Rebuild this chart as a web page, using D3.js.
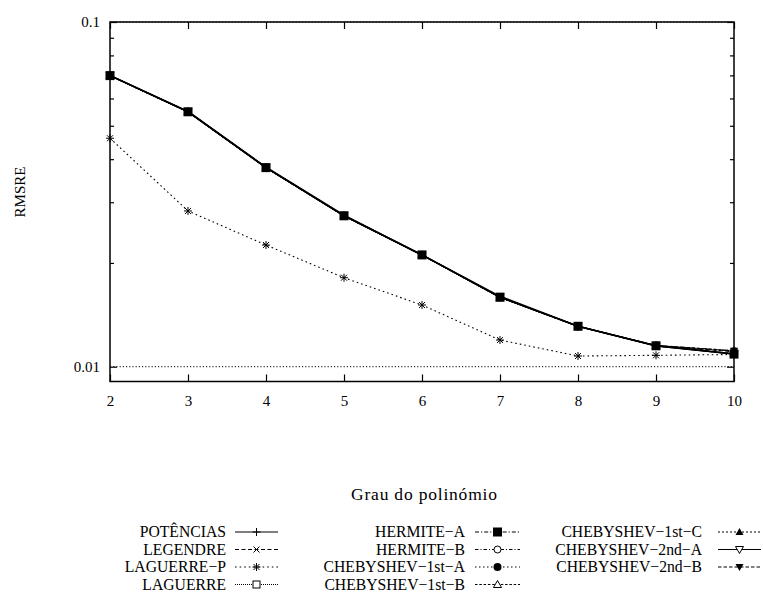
<!DOCTYPE html>
<html>
<head>
<meta charset="utf-8">
<script src="https://cdn.jsdelivr.net/npm/d3@7"></script>
<style>
  html, body { margin: 0; padding: 0; background: #fff; }
  svg { display: block; }
  svg text { font-family: 'Liberation Serif', Tinos, 'Times New Roman', Times, 'DejaVu Serif', serif !important; fill: #000; }
</style>
</head>
<body>
<svg id="chart" width="763" height="592"></svg>
<script>
// ---------- data ----------
const degrees = [2, 3, 4, 5, 6, 7, 8, 9, 10];
const yTickValues = [0.01, 0.1];
const yTickLabels = ["0.01", "0.1"];
const xTickLabels = ["2", "3", "4", "5", "6", "7", "8", "9", "10"];

const potencias      = [0.0699, 0.0549, 0.0378, 0.0274, 0.0211, 0.0159, 0.0131, 0.01150, 0.01088];
const legendre       = [0.0699, 0.0549, 0.0378, 0.0274, 0.0211, 0.0159, 0.0131, 0.01150, 0.01105];
const laguerreP      = [0.0460, 0.0283, 0.02254, 0.01812, 0.01510, 0.01195, 0.01074, 0.01079, 0.01085];
const laguerre       = [null, null, null, null, null, null, null, null, null]; // outside plotted range
const hermiteA       = [0.0699, 0.0549, 0.0378, 0.0274, 0.0211, 0.0159, 0.0131, 0.01150, 0.01088];
const hermiteB       = [0.0699, 0.0549, 0.0378, 0.0274, 0.0211, 0.0159, 0.0131, 0.01152, 0.01110];
const cheb1A         = [0.0699, 0.0549, 0.0378, 0.0274, 0.0211, 0.0159, 0.0131, 0.01150, 0.01090];
const cheb1B         = [0.0699, 0.0549, 0.0378, 0.0274, 0.0211, 0.0159, 0.0131, 0.01152, 0.01112];
const cheb1C         = [0.0699, 0.0549, 0.0378, 0.0274, 0.0211, 0.0159, 0.0131, 0.01150, 0.01090];
const cheb2A         = [0.0700, 0.0550, 0.0379, 0.0275, 0.0211, 0.0160, 0.0131, 0.01148, 0.01088];
const cheb2B         = [0.0699, 0.0549, 0.0378, 0.0274, 0.0211, 0.0159, 0.0131, 0.01153, 0.01112];

const seriesNames = ["POTÊNCIAS", "LEGENDRE", "LAGUERRE−P", "LAGUERRE", "HERMITE−A", "HERMITE−B",
  "CHEBYSHEV−1st−A", "CHEBYSHEV−1st−B", "CHEBYSHEV−1st−C", "CHEBYSHEV−2nd−A", "CHEBYSHEV−2nd−B"];
const seriesValues = [potencias, legendre, laguerreP, laguerre, hermiteA, hermiteB,
  cheb1A, cheb1B, cheb1C, cheb2A, cheb2B];

// ---------- styles ----------
const styles = [
  { dash: null,          marker: "plus" },
  { dash: "4,2.5",       marker: "cross" },
  { dash: "1.6,3",       marker: "star" },
  { dash: "1,1",         marker: "squareOpen" },
  { dash: "4,2,1.2,2",   marker: "squareFilled" },
  { dash: "3.5,2,1,2",   marker: "circleOpen" },
  { dash: "1.5,2.5",     marker: "circleFilled" },
  { dash: "2.5,1.8",     marker: "triUpOpen" },
  { dash: "2,2",         marker: "triUpFilled" },
  { dash: null,          marker: "triDownOpen" },
  { dash: "3.5,2",       marker: "triDownFilled" }
];

const FONT = "'Liberation Serif', Tinos, 'Times New Roman', Times, 'DejaVu Serif', serif";
const svg = d3.select("#chart");
const pLeft = 110, pRight = 734, pTop = 22, pBottom = 381.5;

const x = d3.scaleLinear().domain([2, 10]).range([pLeft, pRight]);
const y = d3.scaleLog().domain([0.01, 0.1]).range([366.7, pTop]);

// grid line at major y tick (0.01)
svg.append("g").selectAll("line").data(yTickValues).join("line")
  .attr("x1", pLeft).attr("x2", pRight)
  .attr("y1", d => y(d)).attr("y2", d => y(d))
  .attr("stroke", "#000").attr("stroke-width", 1)
  .attr("stroke-dasharray", "1.2,2");

// axes via d3
const minorVals = [0.02, 0.03, 0.04, 0.05, 0.06, 0.07, 0.08, 0.09];
const axisStyle = g => {
  g.attr("font-family", FONT);
  g.select(".domain").remove();
  g.selectAll(".tick line").attr("stroke", "#000").attr("stroke-width", 1.2);
  g.selectAll(".tick text").attr("font-size", 15).style("font-family", FONT);
};

svg.append("g").attr("transform", `translate(0,${pBottom})`)
  .call(d3.axisBottom(x).tickValues(degrees).tickFormat((d, i) => xTickLabels[i]).tickSizeInner(-7).tickSizeOuter(0).tickPadding(14))
  .call(axisStyle);
svg.append("g").attr("transform", `translate(0,${pTop})`)
  .call(d3.axisTop(x).tickValues(degrees).tickFormat("").tickSizeInner(-7).tickSizeOuter(0))
  .call(axisStyle);
svg.append("g").attr("transform", `translate(${pLeft},0)`)
  .call(d3.axisLeft(y).tickValues(yTickValues).tickFormat((d, i) => yTickLabels[i]).tickSizeInner(-7).tickSizeOuter(0).tickPadding(10))
  .call(axisStyle);
svg.append("g").attr("transform", `translate(${pLeft},0)`)
  .call(d3.axisLeft(y).tickValues(minorVals).tickFormat("").tickSizeInner(-4).tickSizeOuter(0))
  .call(axisStyle);
svg.append("g").attr("transform", `translate(${pRight},0)`)
  .call(d3.axisRight(y).tickValues(yTickValues).tickFormat("").tickSizeInner(-7).tickSizeOuter(0))
  .call(axisStyle);
svg.append("g").attr("transform", `translate(${pRight},0)`)
  .call(d3.axisRight(y).tickValues(minorVals).tickFormat("").tickSizeInner(-4).tickSizeOuter(0))
  .call(axisStyle);

// frame
svg.append("rect").attr("x", pLeft).attr("y", pTop)
  .attr("width", pRight - pLeft).attr("height", pBottom - pTop)
  .attr("fill", "none").attr("stroke", "#000").attr("stroke-width", 1.5);

// axis titles
svg.append("text").attr("x", 424).attr("y", 500)
  .attr("text-anchor", "middle").attr("font-size", 17.5)
  .attr("textLength", 146).attr("lengthAdjust", "spacing")
  .style("font-family", FONT).text("Grau do polinómio");
svg.append("text").attr("transform", "translate(25,192) rotate(-90)")
  .attr("text-anchor", "middle").attr("font-size", 15).style("font-family", FONT).text("RMSRE");

function drawMarker(g, type, cx, cy) {
  const s = 4;
  const p = g.append("g").attr("transform", `translate(${cx},${cy})`);
  switch (type) {
    case "plus":
      p.append("path").attr("d", `M${-s},0H${s}M0,${-s}V${s}`).attr("stroke", "#000").attr("stroke-width", 1).attr("fill", "none"); break;
    case "cross":
      p.append("path").attr("d", `M-3,-3L3,3M-3,3L3,-3`).attr("stroke", "#000").attr("stroke-width", 1).attr("fill", "none"); break;
    case "star":
      p.append("path").attr("d", `M${-s},0H${s}M0,${-s}V${s}M-3,-3L3,3M-3,3L3,-3`).attr("stroke", "#000").attr("stroke-width", 1).attr("fill", "none"); break;
    case "squareOpen":
      p.append("rect").attr("x", -3.5).attr("y", -3.5).attr("width", 7).attr("height", 7).attr("fill", "#fff").attr("stroke", "#000").attr("stroke-width", 1); break;
    case "squareFilled":
      p.append("rect").attr("x", -4.5).attr("y", -4.5).attr("width", 9).attr("height", 9).attr("fill", "#000"); break;
    case "circleOpen":
      p.append("circle").attr("r", 3.5).attr("fill", "#fff").attr("stroke", "#000").attr("stroke-width", 1); break;
    case "circleFilled":
      p.append("circle").attr("r", 4).attr("fill", "#000"); break;
    case "triUpOpen":
      p.append("path").attr("d", "M0,-4L4,3L-4,3Z").attr("fill", "#fff").attr("stroke", "#000").attr("stroke-width", 1); break;
    case "triUpFilled":
      p.append("path").attr("d", "M0,-4L4,3L-4,3Z").attr("fill", "#000"); break;
    case "triDownOpen":
      p.append("path").attr("d", "M0,4L4,-3L-4,-3Z").attr("fill", "#fff").attr("stroke", "#000").attr("stroke-width", 1); break;
    case "triDownFilled":
      p.append("path").attr("d", "M0,4L4,-3L-4,-3Z").attr("fill", "#000"); break;
  }
}

const line = d3.line().defined(d => d.v != null).x(d => x(d.x)).y(d => y(d.v));
const plot = svg.append("g");
const markerLayer = svg.append("g");
// draw the open-symbol series first so the filled squares (HERMITE-A) stay on top as in the reference
const drawOrder = [0, 1, 2, 3, 5, 6, 7, 8, 9, 10, 4];
drawOrder.forEach(i => {
  const vals = seriesValues[i];
  const pts = degrees.map((d, j) => ({ x: d, v: vals[j] }));
  const st = styles[i];
  plot.append("path").datum(pts).attr("d", line)
    .attr("fill", "none").attr("stroke", "#000")
    .attr("stroke-width", st.dash ? 1.1 : 1.6)
    .attr("stroke-dasharray", st.dash);
  pts.filter(p => p.v != null).forEach(p => drawMarker(markerLayer, st.marker, x(p.x), y(p.v)));
});

// legend
const legendCols = [
  { textRight: 226, sampleX1: 235, sampleX2: 278 },
  { textRight: 465, sampleX1: 475, sampleX2: 520 },
  { textRight: 702, sampleX1: 718, sampleX2: 761 }
];
const rowY0 = 532, rowStep = 17.5;
const legend = svg.append("g");
seriesNames.forEach((name, i) => {
  const col = legendCols[Math.floor(i / 4)];
  const cy = rowY0 + (i % 4) * rowStep;
  legend.append("text").attr("x", col.textRight).attr("y", cy + 5)
    .attr("text-anchor", "end").attr("font-size", 15.7).style("font-family", FONT).text(name);
  const st = styles[i];
  legend.append("line").attr("x1", col.sampleX1).attr("x2", col.sampleX2)
    .attr("y1", cy).attr("y2", cy).attr("stroke", "#000")
    .attr("stroke-width", 1).attr("stroke-dasharray", st.dash);
  drawMarker(legend, st.marker, (col.sampleX1 + col.sampleX2) / 2, cy);
});
</script>
</body>
</html>
